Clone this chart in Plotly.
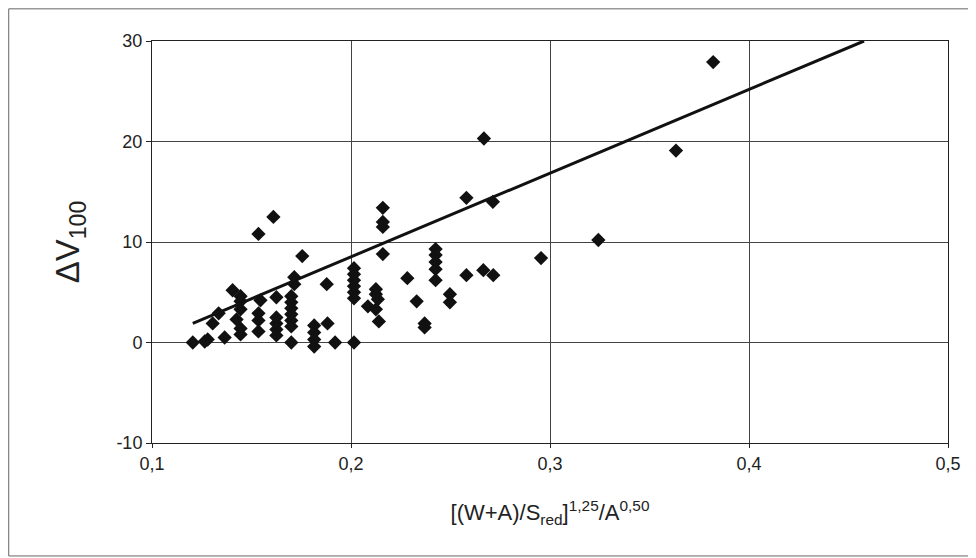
import plotly.graph_objects as go

# measured points: x = [(W+A)/S_red]^1.25 / A^0.5, y = delta V100
x_vals = [0.1205, 0.1265, 0.128, 0.1305, 0.1335, 0.1365, 0.1405, 0.1445, 0.1445, 0.1445,
          0.1425, 0.1445, 0.1445, 0.1535, 0.1545, 0.1535, 0.1535, 0.1535, 0.161, 0.1625,
          0.1625, 0.1625, 0.1625, 0.1625, 0.1715, 0.1715, 0.170, 0.170, 0.170, 0.170,
          0.170, 0.170, 0.170, 0.1755, 0.1815, 0.1815, 0.1815, 0.1815, 0.1878, 0.1882,
          0.192, 0.2015, 0.2015, 0.2015, 0.2015, 0.2015, 0.2015, 0.2015, 0.2125, 0.2125,
          0.2135, 0.2085, 0.2125, 0.214, 0.216, 0.216, 0.216, 0.216, 0.2283, 0.233,
          0.237, 0.237, 0.2425, 0.2425, 0.2425, 0.2425, 0.2425, 0.2497, 0.2497, 0.258,
          0.258, 0.2665, 0.2668, 0.2713, 0.2715, 0.2955, 0.3243, 0.3633, 0.382]
y_vals = [0.0, 0.1, 0.3, 1.9, 2.9, 0.5, 5.2, 4.6, 4.1, 3.3,
          2.3, 1.4, 0.8, 10.8, 4.2, 2.9, 2.2, 1.1, 12.5, 4.5,
          2.5, 1.9, 1.3, 0.7, 6.5, 5.8, 4.6, 4.0, 3.4, 2.8,
          2.2, 1.6, 0.0, 8.6, 1.7, 1.0, 0.3, -0.4, 5.8, 1.9,
          0.0, 7.4, 6.8, 6.2, 5.6, 5.0, 4.4, 0.0, 5.3, 4.8,
          4.3, 3.6, 3.3, 2.1, 13.4, 12.0, 11.5, 8.8, 6.4, 4.1,
          1.9, 1.5, 9.3, 8.7, 8.0, 7.3, 6.2, 4.8, 4.0, 14.4,
          6.7, 7.2, 20.3, 14.0, 6.7, 8.4, 10.2, 19.1, 27.9]

# regression line end points
fit_x = [0.1205, 0.4578]
fit_y = [1.9, 30.0]

x_ticks = [0.1, 0.2, 0.3, 0.4, 0.5]
x_labels = ['0,1', '0,2', '0,3', '0,4', '0,5']
y_ticks = [-10, 0, 10, 20, 30]
y_labels = ['-10', '0', '10', '20', '30']

font = "Liberation Sans, Arial, sans-serif"

fig = go.Figure()
fig.add_trace(go.Scatter(x=x_vals, y=y_vals, mode='markers',
                         marker=dict(symbol='diamond', size=11, color='#111111'),
                         showlegend=False))
fig.add_trace(go.Scatter(x=fit_x, y=fit_y, mode='lines',
                         line=dict(color='#111111', width=3), showlegend=False))

# outer frame around the whole chart
fig.add_shape(type='rect', xref='paper', yref='paper',
              x0=-0.18, x1=1.032, y0=-0.281, y1=1.08,
              line=dict(color='#666666', width=1))

# the page body adds 8px, so the figure is 968x550
fig.update_layout(
    width=968, height=550,
    margin=dict(l=144, r=28, t=33, b=115),
    paper_bgcolor='white', plot_bgcolor='white',
    font=dict(family=font, size=18, color='#222222'),
    xaxis=dict(range=[0.1, 0.5], tickvals=x_ticks, ticktext=x_labels,
               showgrid=True, gridcolor='#444444', gridwidth=1,
               showline=True, linecolor='#222222', linewidth=1, mirror=True,
               ticks='outside', ticklen=4, tickcolor='#222222',
               zeroline=False, tickfont=dict(size=18),
               title=dict(text='[(W+A)/S<sub>red</sub>]<sup>1,25</sup>/A<sup>0,50</sup>',
                          font=dict(size=22), standoff=32)),
    yaxis=dict(range=[-10, 30], tickvals=y_ticks, ticktext=y_labels,
               showgrid=True, gridcolor='#444444', gridwidth=1,
               showline=True, linecolor='#222222', linewidth=1, mirror=True,
               ticks='outside', ticklen=5, tickcolor='#222222',
               zeroline=False, tickfont=dict(size=18),
               title=dict(text='\u0394V<sub>100</sub>', font=dict(size=33), standoff=26)),
)

fig.write_html("out.html")
